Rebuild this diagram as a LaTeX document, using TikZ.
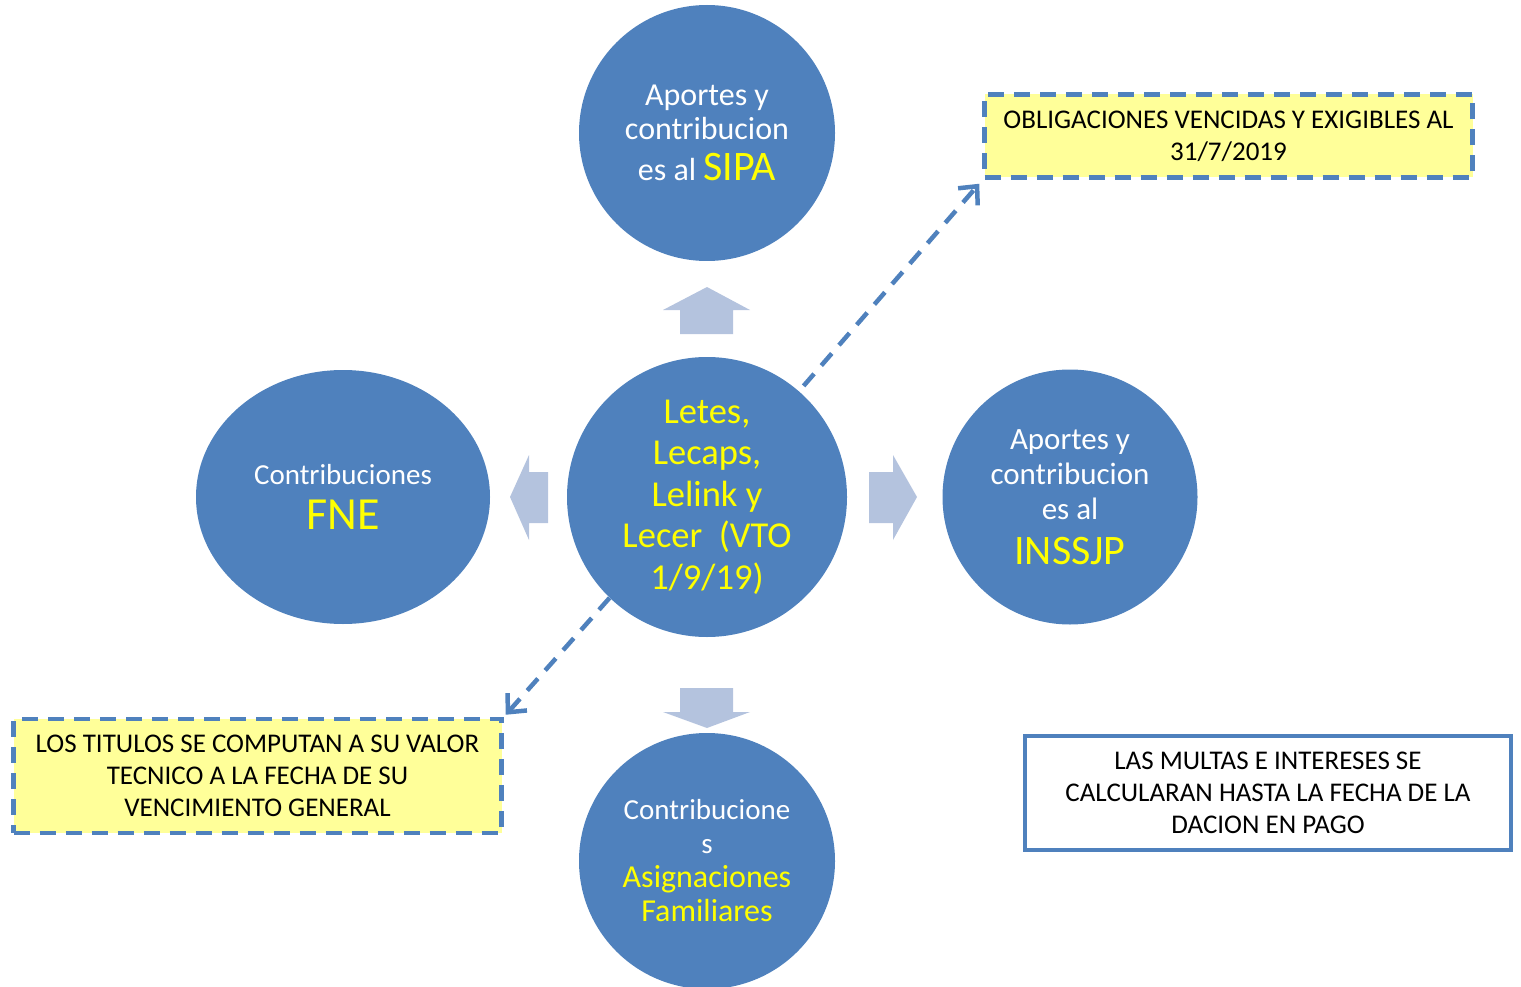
\documentclass[tikz,border=0pt]{standalone}
\usepackage{fontspec}
\setmainfont{Carlito}
\usetikzlibrary{arrows.meta,calc,shapes.geometric}
\definecolor{cblue}{RGB}{79,129,189}
\definecolor{ablue}{RGB}{180,195,222}
\definecolor{nyellow}{RGB}{255,255,153}
\definecolor{tyellow}{RGB}{255,255,0}
\tikzset{
  bubble/.style={circle, fill=cblue, draw=none, text=white, align=center, inner sep=0pt, minimum size=256pt},
  blockarr/.style={fill=ablue, draw=none},
  dasharrow/.style={draw=cblue, line width=4.5pt, dash pattern=on 16pt off 11pt,
     -{Straight Barb[length=14pt,width=26pt,line width=4.5pt]}},
  notebox/.style={fill=nyellow, draw=cblue, line width=4.5pt, dash pattern=on 16pt off 10pt,
     minimum width=488pt, align=center, inner sep=0pt, font=\fontsize{27}{32}\selectfont},
  plainbox/.style={fill=white, draw=cblue, line width=4.5pt,
     minimum width=486pt, minimum height=114pt, align=center, inner sep=0pt, font=\fontsize{27}{32}\selectfont}
}
\newcommand{\yel}[1]{\textcolor{tyellow}{#1}}
\begin{document}
\begin{tikzpicture}[x=1pt,y=-1pt]
\useasboundingbox (0,0) rectangle (1521,987);
% circles
\node[bubble, minimum size=256pt, font=\fontsize{32}{34}\selectfont] (sipa) at (707,133)
  {Aportes y\\contribucion\\[7pt]es al {\fontsize{42}{42}\selectfont\yel{SIPA}}};
\node[bubble, minimum size=280pt, text=tyellow, font=\fontsize{36.5}{41.5}\selectfont] (c) at (707,497)
  {Letes,\\Lecaps,\\Lelink y\\Lecer\ \ (VTO\\1/9/19)};
\node[ellipse, fill=cblue, inner sep=0pt, minimum width=294pt, minimum height=254pt, text=white, align=center, font=\fontsize{29}{33}\selectfont] (fne) at (343,497)
  {Contribuciones\\[12pt]{\fontsize{46}{46}\selectfont\yel{FNE}}};
\node[bubble, minimum size=255pt, font=\fontsize{31}{35}\selectfont] (ins) at (1070,497)
  {Aportes y\\contribucion\\es al\\[10pt]{\fontsize{42}{42}\selectfont\yel{INSSJP}}};
\node[bubble, minimum size=256pt, font=\fontsize{29}{34}\selectfont] (asig) at (707,861)
  {Contribucione\\s\\{\fontsize{32}{34}\selectfont\yel{Asignaciones}}\\{\fontsize{32}{34}\selectfont\yel{Familiares}}};
% block arrows
\fill[blockarr] (707,287) -- (750,310) -- (733,310) -- (733,334) -- (680,334) -- (680,310) -- (663,310) -- cycle;
\fill[blockarr] (510,497) -- (529,455) -- (529,472) -- (548,472) -- (548,523) -- (529,523) -- (529,540) -- cycle;
\fill[blockarr] (917,497) -- (893,455) -- (893,472) -- (869,472) -- (869,523) -- (893,523) -- (893,540) -- cycle;
\fill[blockarr] (707,728) -- (750,712) -- (733,712) -- (733,688) -- (680,688) -- (680,712) -- (663,712) -- cycle;
% boxes
\node[notebox, minimum height=83pt] (ob) at (1228.5,136)
  {OBLIGACIONES VENCIDAS Y EXIGIBLES AL\\31/7/2019};
\node[notebox, minimum height=114pt] (tit) at (257.5,776)
  {LOS TITULOS SE COMPUTAN A SU VALOR\\TECNICO A LA FECHA DE SU\\VENCIMIENTO GENERAL};
\node[plainbox] (mul) at (1268,793)
  {LAS MULTAS E INTERESES SE\\CALCULARAN HASTA LA FECHA DE LA\\DACION EN PAGO};
% dashed connectors
\coordinate (e1) at ($(ob.south west)+(-3,4)$);
\coordinate (e2) at ($(tit.north east)+(2,-2)$);
\draw[dasharrow, shorten <=7pt] (c.49) -- (e1);
\draw[dasharrow] (c.226) -- (e2);
\end{tikzpicture}
\end{document}
